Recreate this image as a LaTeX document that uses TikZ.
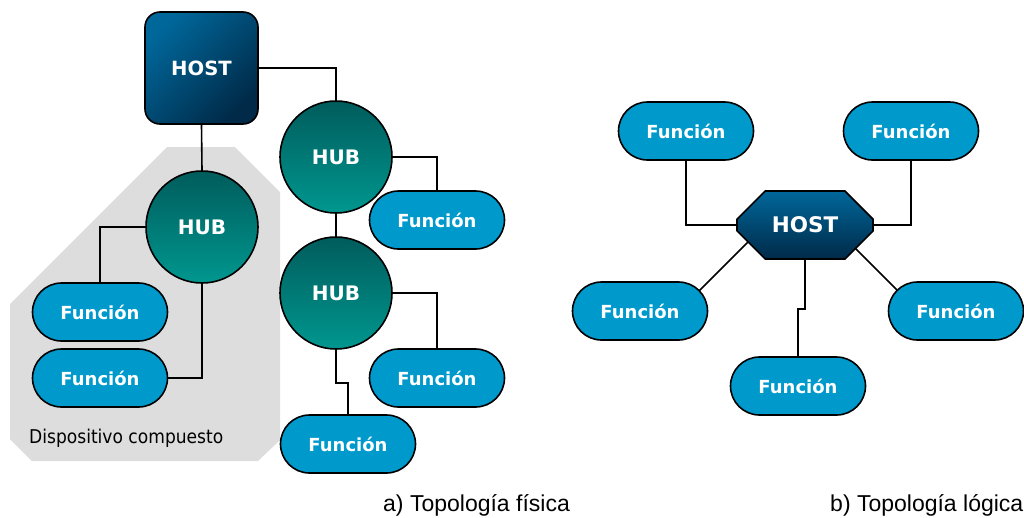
\documentclass[tikz,border=0pt]{standalone}
\usepackage{fontspec}
\setmainfont{DejaVu Sans}
\newfontfamily\labelfont{DejaVu Sans}
\newfontfamily\notefont[FakeStretch=0.9]{DejaVu Sans}
\newfontfamily\capfont{Liberation Sans}
\usetikzlibrary{shapes.misc,backgrounds,calc}

\definecolor{hostlight}{HTML}{00679A}
\definecolor{hostdark}{HTML}{002A48}
\definecolor{hubdark}{HTML}{005C5C}
\definecolor{hublight}{HTML}{00978F}
\definecolor{funcblue}{HTML}{0099CC}
\definecolor{devgrey}{HTML}{DDDDDD}

\tikzset{
  wire/.style={line width=1.6pt, black},
  outline/.style={draw=black, line width=1.6pt, text=white, inner sep=0pt},
  func/.style={outline, rectangle, rounded corners=29pt, fill=funcblue,
    minimum width=135pt, minimum height=58pt,
    font=\labelfont\bfseries\fontsize{18}{18}\selectfont},
  hub/.style={outline, circle, minimum size=112pt,
    shading=axis, top color=hubdark, bottom color=hublight,
    font=\labelfont\bfseries\fontsize{20}{20}\selectfont},
  hostsq/.style={outline, rectangle, rounded corners=15pt,
    minimum width=113pt, minimum height=112pt,
    shading=axis, top color=hostlight, bottom color=hostdark, shading angle=45,
    font=\labelfont\bfseries\fontsize{19.6}{20}\selectfont},
  hostoct/.style={outline, chamfered rectangle, chamfered rectangle xsep=20pt,
    chamfered rectangle ysep=20pt,
    minimum width=136pt, minimum height=68pt,
    shading=axis, top color=hostlight, bottom color=hostdark,
    font=\labelfont\bfseries\fontsize{21.5}{22}\selectfont},
  caption/.style={anchor=base west, inner sep=0pt,
    font=\capfont\fontsize{23}{23}\selectfont}
}

\begin{document}
\begin{tikzpicture}[x=1pt, y=-1pt]
\useasboundingbox (0,0) rectangle (1024,517);

% ---------- a) physical topology ----------
\node[hostsq] (hostA) at (201.5,68) {HOST};
\node[hub] (hubT) at (336,157) {HUB};
\node[hub] (hubL) at (202,227) {HUB};
\node[hub] (hubB) at (336,293) {HUB};

\node[func] (fL1) at (100,312) {Función};
\node[func] (fL2) at (100,378) {Función};
\node[func] (fT) at (437,220) {Función};
\node[func] (fM) at (437,378) {Función};
\node[func] (fB) at (348,444) {Función};

\node[anchor=west, inner sep=0pt, font=\notefont\fontsize{19}{19}\selectfont]
  (devlabel) at (29,438) {Dispositivo compuesto};

\begin{scope}[on background layer]
  % compound device area
  \fill[devgrey] (167,147) -- (235,147) -- (280,192) -- (280,440)
    -- (258,461) -- (32,461) -- (10,439) -- (10,304) -- cycle;
  \draw[wire] (hostA.east) -| (hubT.north);
  \draw[wire] (hostA.south) -- (hubL.north);
  \draw[wire] (hubT.east) -| (fT.north);
  \draw[wire] (hubT.south) -- (hubB.north);
  \draw[wire] (hubL.west) -| (fL1.north);
  \draw[wire] (hubL.south) |- (fL2.east);
  \draw[wire] (hubB.east) -| (fM.north);
  \draw[wire] (hubB.south) -- ++(0,33) -| (fB.north);
\end{scope}

% ---------- b) logical topology ----------
\node[hostoct] (hostB) at (805,225) {HOST};
\node[func] (fR1) at (686,131) {Función};
\node[func] (fR2) at (911,131) {Función};
\node[func] (fR3) at (640,311) {Función};
\node[func] (fR4) at (956,311) {Función};
\node[func] (fR5) at (798,386) {Función};

\begin{scope}[on background layer]
  \draw[wire] (fR1.south) |- (hostB.west);
  \draw[wire] (fR2.south) |- (hostB.east);
  \draw[wire] (hostB.south) -- ++(0,49) -| (fR5.north);
  \draw[wire] ($(hostB)+(-45,5)$) -- ($(fR3)+(40,-1)$);
  \draw[wire] ($(hostB)+(35,8)$) -- ($(fR4)+(-41,-3)$);
\end{scope}

% ---------- captions ----------
\node[caption] (capA) at (383,511) {a) Topología física};
\node[caption] (capB) at (830,511) {b) Topología lógica};
\end{tikzpicture}
\end{document}
